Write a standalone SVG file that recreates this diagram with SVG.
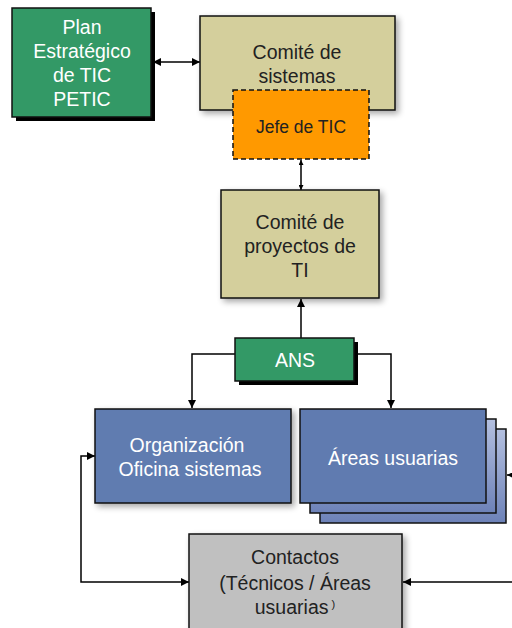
<svg xmlns="http://www.w3.org/2000/svg" width="512" height="628" viewBox="0 0 512 628">
<defs>
<marker id="ah" viewBox="0 0 10 10" refX="10" refY="5" markerWidth="8" markerHeight="8" orient="auto-start-reverse" markerUnits="userSpaceOnUse"><path d="M0,0 L10,5 L0,10 z" fill="#000"/></marker>
<marker id="ahs" viewBox="0 0 10 10" refX="10" refY="5" markerWidth="5" markerHeight="5" orient="auto-start-reverse" markerUnits="userSpaceOnUse"><path d="M0,0 L10,5 L0,10 z" fill="#000"/></marker>
<filter id="sh" x="-10%" y="-10%" width="130%" height="130%"><feGaussianBlur in="SourceAlpha" stdDeviation="3"/><feOffset dx="3" dy="3"/><feComponentTransfer><feFuncA type="linear" slope="0.35"/></feComponentTransfer><feMerge><feMergeNode/><feMergeNode in="SourceGraphic"/></feMerge></filter>
<linearGradient id="stk" x1="0" y1="0" x2="0" y2="1"><stop offset="0" stop-color="#b4c0e0"/><stop offset="1" stop-color="#6d82b8"/></linearGradient>
</defs>
<style>
text{font-family:"Liberation Sans",Arial,sans-serif;text-anchor:middle}
.w{fill:#fff;font-size:19.5px}
.d{fill:#222;font-size:19.5px}
.b{stroke:#111;stroke-width:1.5}
.c{fill:none;stroke:#000;stroke-width:1.5}
</style>
<g id="connectors">
<line class="c" x1="153" y1="62" x2="200" y2="62" marker-start="url(#ah)" marker-end="url(#ah)"/>
<line class="c" x1="301" y1="160" x2="301" y2="190" marker-start="url(#ahs)" marker-end="url(#ahs)"/>
<line class="c" x1="301" y1="338" x2="301" y2="299" marker-end="url(#ah)"/>
<polyline class="c" points="235,354 192,354 192,408" marker-end="url(#ah)"/>
<polyline class="c" points="354,354 391,354 391,408" marker-end="url(#ah)"/>
<polyline class="c" points="189,582 81,582 81,456 95,456" marker-start="url(#ah)" marker-end="url(#ah)"/>
<line class="c" x1="512" y1="582" x2="403" y2="582" marker-end="url(#ah)"/>
<line class="c" x1="512" y1="475" x2="507" y2="475" marker-end="url(#ahs)"/>
</g>
<g id="plan">
<rect x="16" y="12" width="139" height="109" fill="#000"/>
<rect class="b" x="12" y="8" width="139" height="109" fill="#339966"/>
<text class="w" x="82" y="34">Plan</text>
<text class="w" x="82" y="58">Estratégico</text>
<text class="w" x="82" y="82">de TIC</text>
<text class="w" x="82" y="106">PETIC</text>
</g>
<g id="comite-sistemas">
<rect class="b" x="200" y="16" width="195" height="94" fill="#d4cf9c" filter="url(#sh)"/>
<text class="d" x="297" y="59">Comité de</text>
<text class="d" x="297" y="83">sistemas</text>
</g>
<g id="jefe">
<rect x="233" y="90" width="136" height="69" fill="#ff9900" stroke="#111" stroke-width="1.5" stroke-dasharray="5,3"/>
<text x="301" y="133" fill="#222" font-size="17.5px">Jefe de TIC</text>
</g>
<g id="comite-proyectos">
<rect class="b" x="221" y="190" width="158" height="108" fill="#d4cf9c" filter="url(#sh)"/>
<text class="d" x="300" y="229">Comité de</text>
<text class="d" x="300" y="253">proyectos de</text>
<text class="d" x="300" y="277">TI</text>
</g>
<g id="ans">
<rect x="239" y="342" width="119" height="43" fill="#000"/>
<rect class="b" x="235" y="338" width="119" height="43" fill="#339966"/>
<text class="w" x="295" y="367">ANS</text>
</g>
<g id="organizacion">
<rect class="b" x="95" y="409" width="196" height="94" fill="#607bb0" filter="url(#sh)"/>
<text class="w" x="187" y="452">Organización</text>
<text class="w" x="190" y="476">Oficina sistemas</text>
</g>
<g id="areas">
<rect class="b" x="320" y="429" width="186" height="94" fill="url(#stk)"/>
<rect class="b" x="310" y="419" width="186" height="94" fill="url(#stk)"/>
<rect class="b" x="300" y="409" width="186" height="94" fill="#607bb0"/>
<text class="w" x="393" y="465">Áreas usuarias</text>
</g>
<g id="contactos">
<rect class="b" x="189" y="534" width="213" height="100" fill="#c0c0c0" filter="url(#sh)"/>
<text class="d" x="295" y="564">Contactos</text>
<text class="d" x="295" y="590">(Técnicos / Áreas</text>
<text class="d" x="295" y="614">usuarias<tspan font-size="11px" dy="-6">  )</tspan></text>
</g>
</svg>
